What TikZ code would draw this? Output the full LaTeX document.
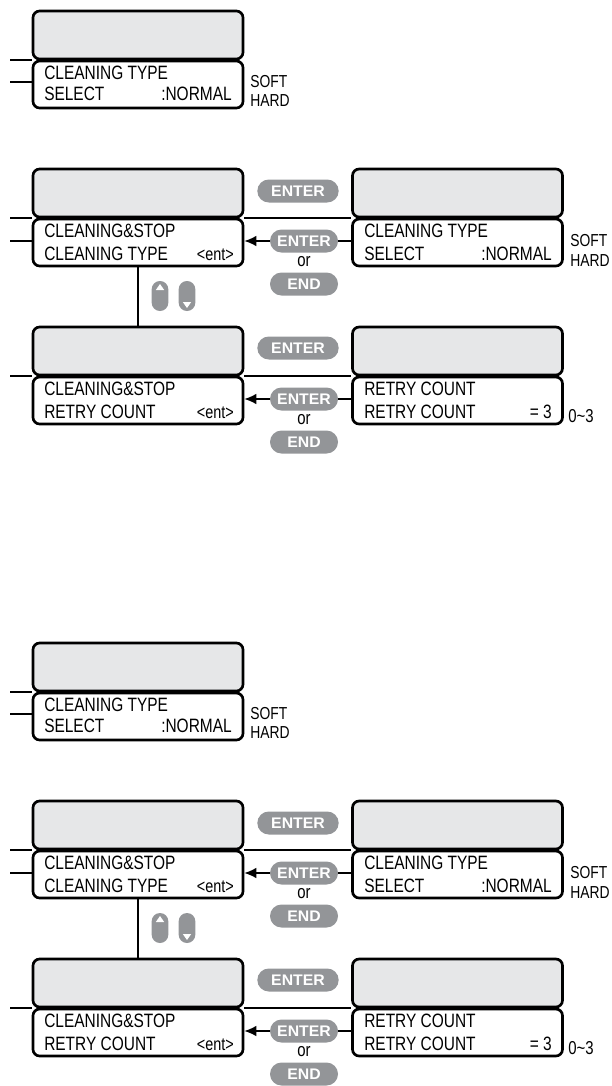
\documentclass[tikz,border=0pt]{standalone}
\usepackage{fontspec}
\setmainfont{Liberation Sans}[FakeStretch=0.8]
\newfontfamily\btnfont{Liberation Sans}[FakeStretch=1.03]
\usetikzlibrary{arrows.meta}
\definecolor{scr}{HTML}{E6E7E8}
\definecolor{btn}{HTML}{939598}
\tikzset{
 screen/.style={draw=black, line width=2pt, fill=scr, rounded corners=5pt, minimum width=157.5pt, minimum height=36pt, inner sep=0pt},
 panel/.style={draw=black, line width=2pt, fill=white, rounded corners=5pt, minimum width=157.5pt, minimum height=35.25pt, inner sep=0pt},
 lcd/.style={anchor=base west, inner sep=0pt, font=\fontsize{14.5}{14.5}\selectfont},
 lcdr/.style={anchor=base east, inner sep=0pt, font=\fontsize{14.5}{14.5}\selectfont},
 entr/.style={anchor=base east, inner sep=0pt, font=\fontsize{13.5}{13.5}\selectfont},
 opt/.style={anchor=base west, inner sep=0pt, font=\fontsize{13}{13}\selectfont},
 key/.style={fill=btn, text=white, rounded corners=8.6pt, minimum height=17.25pt, inner sep=0pt, font=\btnfont\bfseries\fontsize{11.5}{11.5}\selectfont},
 bigkey/.style={key, minimum width=61pt},
 smallkey/.style={key, minimum width=51pt},
 arrkey/.style={fill=btn, rounded corners=6.2pt, minimum width=12.5pt, minimum height=22.5pt, inner sep=0pt},
 conn/.style={line width=1.1pt},
 ortext/.style={font=\fontsize{14}{14}\selectfont, inner sep=0pt},
 tri/.style={fill=white, draw=none},
 tip/.style={-{Latex[length=9pt,width=8pt]}},
}
\begin{document}
\begin{tikzpicture}[x=0.75pt,y=-0.75pt]
\useasboundingbox (0,0) rectangle (611,1086);
\foreach \o/\k in {0/a,632/b}{
\begin{scope}[shift={(0,\o)}]
% ---- block A (single display)
\node[screen] (A\k) at (138,35) {};
\node[panel] (Ap\k) at (138,84.5) {};
\node[lcd] (At1\k) at (44,79) {CLEANING TYPE};
\node[lcd] (At2\k) at (44,100) {SELECT};
\node[lcdr] (At3\k) at (232,100) {:NORMAL};
\node[opt] (Ao1\k) at (250,87) {SOFT};
\node[opt] (Ao2\k) at (250,106) {HARD};
\coordinate (Ac1\k) at (10,60);
\coordinate (Ac2\k) at (10,82);
\draw[conn] (Ac1\k) -- (Ac1\k -| Ap\k.west);
\draw[conn] (Ac2\k) -- (Ac2\k -| Ap\k.west);
% ---- row 2
\node[screen] (B\k) at (138,193) {};
\node[panel] (Bp\k) at (138,242.5) {};
\node[screen] (C\k) at (457.5,193) {};
\node[panel] (Cp\k) at (457.5,242.5) {};
\node[lcd] (Bt1\k) at (44,237) {CLEANING\&STOP};
\node[lcd] (Bt2\k) at (44,260) {CLEANING TYPE};
\node[entr] (Bt3\k) at (234,260) {<ent>};
\node[lcd] (Ct1\k) at (364,237) {CLEANING TYPE};
\node[lcd] (Ct2\k) at (364,260) {SELECT};
\node[lcdr] (Ct3\k) at (552,260) {:NORMAL};
\node[opt] (Co1\k) at (570,246) {SOFT};
\node[opt] (Co2\k) at (570,266) {HARD};
\node[bigkey] (Bk1\k) at (298,191) {ENTER};
\node[smallkey] (Bk2\k) at (304,241) {ENTER};
\node[ortext] (Bor\k) at (304,262) {or};
\node[smallkey] (Bk3\k) at (304,284) {END};
\coordinate (Bc1\k) at (10,218);
\coordinate (Bc2\k) at (10,241);
\draw[conn] (Bc1\k) -- (Bc1\k -| Bp\k.west);
\draw[conn] (Bc2\k) -- (Bc2\k -| Bp\k.west);
\draw[conn] (Bc1\k -| Bp\k.east) -- (Bc1\k -| Cp\k.west);
\draw[conn] (Bk2\k.east -| Cp\k.west) -- (Bk2\k.east);
\draw[conn,tip] (Bk2\k.west) -- (Bk2\k.west -| Bp\k.east);
% up / down keys
\node[arrkey] (Ku\k) at (160,296) {};
\node[arrkey] (Kd\k) at (187,296) {};
\fill[tri] (160,284) -- (155.8,290) -- (164.2,290) -- cycle;
\fill[tri] (187,308) -- (182.8,302) -- (191.2,302) -- cycle;
% ---- row 3
\node[screen] (D\k) at (138,351) {};
\node[panel] (Dp\k) at (138,400.5) {};
\node[screen] (E\k) at (457.5,351) {};
\node[panel] (Ep\k) at (457.5,400.5) {};
\node[lcd] (Dt1\k) at (44,395) {CLEANING\&STOP};
\node[lcd] (Dt2\k) at (44,418) {RETRY COUNT};
\node[entr] (Dt3\k) at (234,418) {<ent>};
\node[lcd] (Et1\k) at (364,395) {RETRY COUNT};
\node[lcd] (Et2\k) at (364,418) {RETRY COUNT};
\node[lcdr] (Et3\k) at (552,418) {= 3};
\node[opt] (Eo1\k) at (568,422) {\fontsize{14}{14}\selectfont 0\textasciitilde 3};
\node[bigkey] (Dk1\k) at (298,348) {ENTER};
\node[smallkey] (Dk2\k) at (304,399) {ENTER};
\node[ortext] (Dor\k) at (304,420) {or};
\node[smallkey] (Dk3\k) at (304,442) {END};
\coordinate (Dc1\k) at (10,376);
\draw[conn] (Dc1\k) -- (Dc1\k -| Dp\k.west);
\draw[conn] (Dc1\k -| Dp\k.east) -- (Dc1\k -| Ep\k.west);
\draw[conn] (Dk2\k.east -| Ep\k.west) -- (Dk2\k.east);
\draw[conn,tip] (Dk2\k.west) -- (Dk2\k.west -| Dp\k.east);
% vertical link
\draw[conn] (Bp\k.south) -- (D\k.north);
\end{scope}
}
\end{tikzpicture}
\end{document}
